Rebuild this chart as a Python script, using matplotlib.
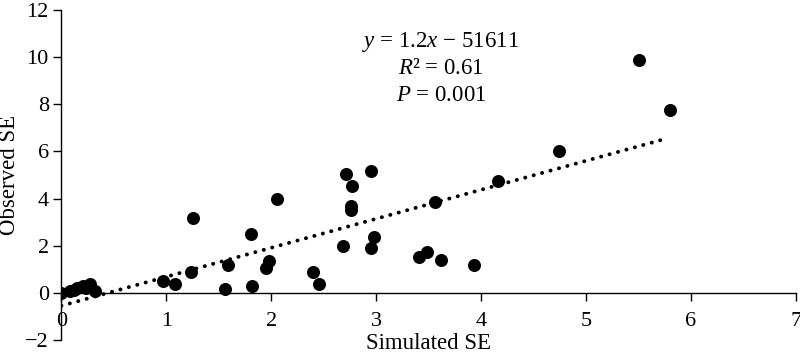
import numpy as np
import matplotlib
matplotlib.use("Agg")
import matplotlib.pyplot as plt

plt.rcParams["font.family"] = ["Liberation Serif", "DejaVu Serif"]
plt.rcParams["mathtext.fontset"] = "custom"
plt.rcParams["mathtext.rm"] = "Liberation Serif"
plt.rcParams["mathtext.it"] = "Liberation Serif:italic"

# ---------- data ----------
simulated = [0.0, 0.08, 0.15, 0.21, 0.27, 0.32, 0.12, 0.24,
             0.965, 1.08, 1.24, 1.26, 1.565, 1.59, 1.81, 1.82,
             1.95, 1.98, 2.06, 2.40, 2.46, 2.69, 2.71, 2.76,
             2.76, 2.77, 2.95, 2.95, 2.98, 3.41, 3.49, 3.56,
             3.62, 3.93, 4.16, 4.74, 5.51, 5.80]
observed = [0.0, 0.07, 0.21, 0.28, 0.39, 0.07, 0.12, 0.2,
            0.52, 0.38, 0.88, 3.18, 0.17, 1.17, 2.5, 0.31,
            1.06, 1.37, 3.98, 0.88, 0.38, 2.0, 5.04, 3.7,
            3.5, 4.52, 5.16, 1.9, 2.37, 1.51, 1.72, 3.85,
            1.41, 1.16, 4.73, 6.0, 9.88, 7.77]

trend_slope = 1.23
trend_intercept = -0.55

x_ticks = [0, 1, 2, 3, 4, 5, 6, 7]
y_ticks = [-2, 0, 2, 4, 6, 8, 10, 12]

stats_lines = ["$y$ = 1.2$x$ − 51611", "$R$² = 0.61", "$P$ = 0.001"]

# ---------- figure ----------
fig = plt.figure(figsize=(8, 3.55), dpi=100)
ax = fig.add_axes([0.0766, 0.0423, 0.918, 0.9296])

ax.scatter(simulated, observed, s=88, color="black", zorder=3, linewidths=0)

tx = np.array([min(simulated), 5.75])
ax.plot(tx, trend_slope * tx + trend_intercept, color="black", lw=2.8,
        linestyle=(0, (0.05, 2.2)), dash_capstyle="round", zorder=2)

ax.set_xlim(0, 7)
ax.set_ylim(-2, 12)
ax.set_xticks(x_ticks)
ax.set_yticks(y_ticks)
ax.set_yticklabels(["−2" if v < 0 else str(v) for v in y_ticks])

for side in ["top", "right"]:
    ax.spines[side].set_visible(False)
ax.spines["left"].set_position(("data", 0))
ax.spines["bottom"].set_position(("data", 0))
ax.spines["left"].set_linewidth(1.0)
ax.spines["bottom"].set_linewidth(1.0)

ax.tick_params(axis="both", direction="out", length=6, width=1.0,
               labelsize=16, color="black")
ax.tick_params(axis="x", pad=8)
ax.tick_params(axis="y", pad=3)

# axis titles placed in figure pixels, as in the reference
fig.text(428.6 / 800, 1 / 355, "Simulated SE", fontsize=16.5,
         ha="center", va="bottom")
fig.text(10 / 800, 1 - 175 / 355, "Observed SE", fontsize=16.5,
         ha="center", va="center", rotation=90)

for i, line in enumerate(stats_lines):
    fig.text(441 / 800, 1 - (42 + i * 26.7) / 355, line, fontsize=16.5,
             ha="center", va="center")

fig.savefig("out.png", dpi=100)
